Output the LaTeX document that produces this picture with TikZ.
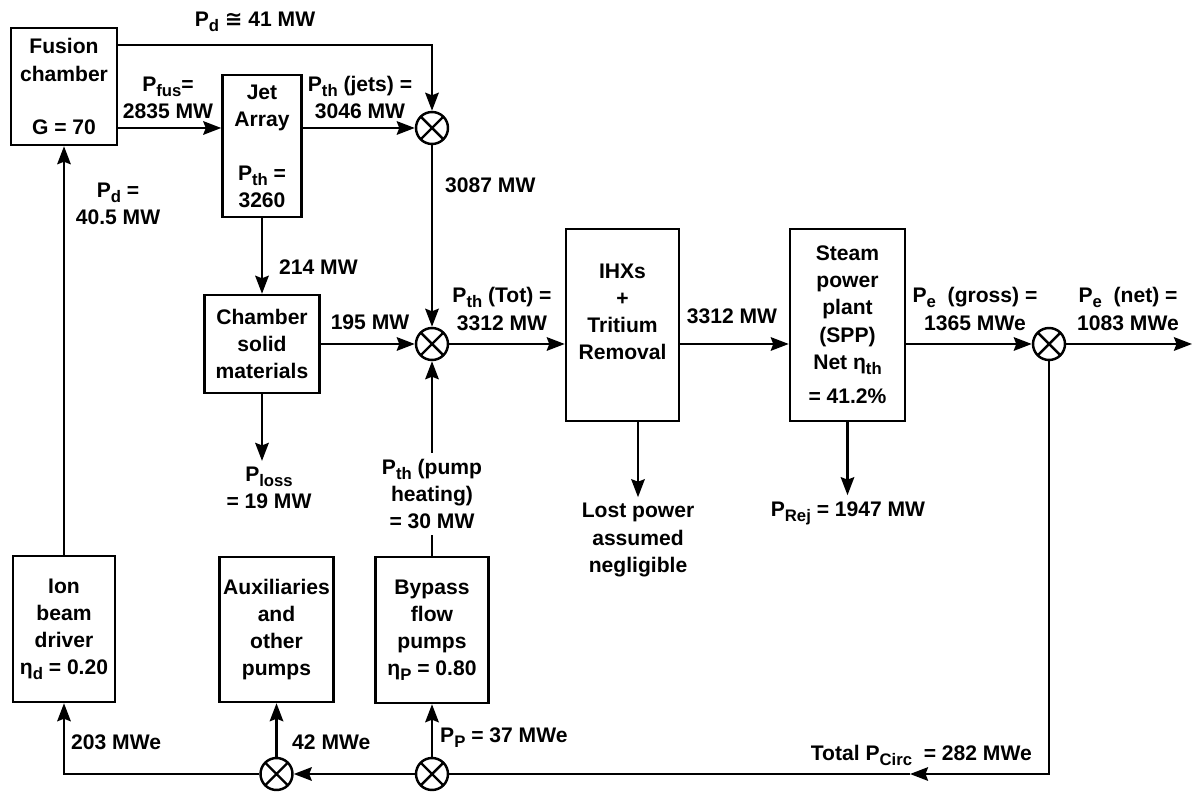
\documentclass[tikz,border=0pt]{standalone}
\usepackage{fontspec}
\setmainfont{Liberation Sans}
\newfontfamily\symf{DejaVu Sans}
\usetikzlibrary{arrows.meta}
\newcommand{\sub}[1]{\raisebox{-0.45ex}{\fontsize{9.5}{9.5}\selectfont #1}}
\tikzset{
  blk/.style={draw,line width=1.4pt,align=center,inner xsep=1pt,inner ysep=2pt},
  sumj/.style={draw,circle,line width=1.4pt,minimum size=6.4mm,inner sep=0pt,
    path picture={\draw[line width=1.4pt]
      (path picture bounding box.south west)--(path picture bounding box.north east)
      (path picture bounding box.north west)--(path picture bounding box.south east);}},
  wire/.style={line width=1.4pt},
  flow/.style={wire,-{Stealth[length=3.6mm,width=2.7mm,inset=0.5mm]}},
  lab/.style={align=center}
}
\begin{document}
\begin{tikzpicture}[x=1cm,y=1cm,font=\fontsize{12}{15.4}\selectfont\bfseries]
    \useasboundingbox (0,0) rectangle (23.94,15.82);
    % --- boxes
    \node[blk,minimum width=2.12cm,minimum height=2.34cm] (fusion) at (1.28,14.09)
      {Fusion\\chamber\\[5.2mm]G = 70};
    \node[blk,minimum width=1.58cm,minimum height=2.84cm] (jet) at (5.24,12.9)
      {Jet\\Array\\[5.4mm]P\sub{th} =\\3260};
    \node[blk,minimum width=2.3cm,minimum height=1.96cm] (solid) at (5.24,8.94)
      {Chamber\\solid\\materials};
    \node[blk,minimum width=2.26cm,minimum height=3.84cm] (ihx) at (12.45,9.32)
      {IHXs\\+\\Tritium\\Removal\\\mbox{}};
    \node[blk,minimum width=2.3cm,minimum height=3.84cm] (spp) at (16.95,9.32)
      {Steam\\power\\plant\\(SPP)\\Net η\sub{th}\\[1.5mm]= 41.2\%};
    \node[blk,minimum width=2.04cm,minimum height=2.92cm] (ion) at (1.28,3.24)
      {Ion\\beam\\driver\\η\sub{d} = 0.20};
    \node[blk,minimum width=2.28cm,minimum height=2.9cm] (aux) at (5.53,3.23)
      {Auxiliaries\\and\\other\\pumps};
    \node[blk,minimum width=2.26cm,minimum height=2.92cm] (bypass) at (8.64,3.22)
      {Bypass\\flow\\pumps\\η\sub{P} = 0.80};
    % --- summing junctions
    \node[sumj] (j1) at (8.64,13.26) {};
    \node[sumj] (j2) at (8.64,8.94) {};
    \node[sumj] (j3) at (20.98,8.94) {};
    \node[sumj] (jb1) at (5.53,0.34) {};
    \node[sumj] (jb2) at (8.64,0.34) {};
    \coordinate (pdc) at (8.64,14.92);
    \coordinate (out) at (23.84,8.94);
    \coordinate (tipc) at (18.2,0.34);
    % --- labels
    \node[lab] (pdtop) at (5.1,15.38) {P\sub{d} {\symf ≅} 41 MW};
    \node[lab] (pfus) at (3.36,13.87) {P\sub{fus}=\\2835 MW};
    \node[lab] (pjets) at (7.2,13.87) {P\sub{th} (jets) =\\3046 MW};
    \node[lab] (pd) at (2.36,11.75) {P\sub{d} =\\40.5 MW};
    \node[lab,anchor=west] (l3087) at (8.78,12.12) {3087 MW};
    \node[lab,anchor=west] (l214) at (5.46,10.48) {214 MW};
    \node[lab] (l195) at (7.4,9.38) {195 MW};
    \node[lab] (ptot) at (10.04,9.64) {P\sub{th} (Tot) =\\3312 MW};
    \node[lab] (l3312) at (14.64,9.5) {3312 MW};
    \node[lab] (pgross) at (19.5,9.64) {P\sub{e} ~(gross) =\\1365 MWe};
    \node[lab] (pnet) at (22.56,9.64) {P\sub{e} ~(net) =\\1083 MWe};
    \node[lab] (ploss) at (5.38,6.06) {P\sub{loss}\\= 19 MW};
    \node[lab] (pump) at (8.64,5.94) {P\sub{th} (pump\\heating)\\= 30 MW};
    \node[lab] (lost) at (12.76,5.02) {Lost power\\assumed\\negligible};
    \node[lab] (prej) at (16.96,5.56) {P\sub{Rej} = 1947 MW};
    \node[lab,anchor=west] (l203) at (1.3,0.98) {203 MWe};
    \node[lab,anchor=west] (l42) at (5.72,0.98) {42 MWe};
    \node[lab,anchor=west] (pp) at (8.68,1.06) {P\sub{P} = 37 MWe};
    \node[lab,anchor=east] (pcirc) at (20.76,0.72) {Total P\sub{Circ} ~= 282 MWe};
    % --- thermal path
    \draw[flow] (fusion.east |- pdc) -- (pdc) -- (j1);
    \draw[flow] (fusion.east |- j1) -- (jet.west |- j1);
    \draw[flow] (jet.east |- j1) -- (j1);
    \draw[flow] (j1) -- (j2);
    \draw[flow] (jet) -- (solid);
    \draw[flow] (solid) -- (j2);
    \draw[flow] (solid.south) -- (solid.south |- ploss.north);
    \draw[wire] (bypass) -- (pump);
    \draw[flow] (pump) -- (j2);
    \draw[flow] (j2) -- (j2 -| ihx.west);
    \draw[flow] (ihx.east |- j2) -- (j2 -| spp.west);
    \draw[flow] (ihx.south -| lost) -- (lost);
    \draw[flow] (spp.south) -- (spp.south |- prej.north);
    \draw[flow] (spp.east |- j3) -- (j3);
    \draw[flow] (j3) -- (out);
    % --- recirculating power
    \draw[flow] (j3) |- (tipc);
    \draw[wire] (tipc) -- (jb2);
    \draw[flow] (jb2) -- (jb1);
    \draw[flow] (jb2) -- (bypass);
    \draw[flow] (jb1) -- (aux);
    \draw[flow] (jb1) -| (ion);
    \draw[flow] (ion) -- (fusion);
\end{tikzpicture}
\end{document}
